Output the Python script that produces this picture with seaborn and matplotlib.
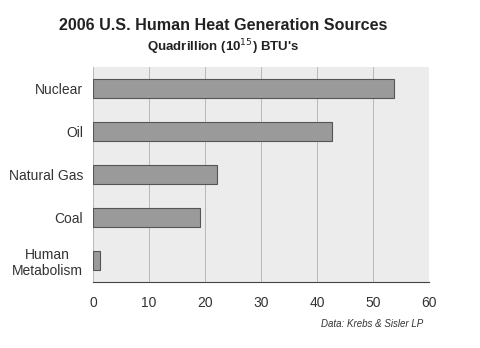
import matplotlib
matplotlib.use("Agg")
import matplotlib.pyplot as plt
import seaborn as sns
import pandas as pd

categories = ["Nuclear", "Oil", "Natural Gas", "Coal", "Human\nMetabolism"]
values = [53.7, 42.7, 22.1, 19.1, 1.3]
xticks = [0, 10, 20, 30, 40, 50, 60]

sns.set_theme(style="white")
plt.rcParams['font.family'] = ['Liberation Sans', 'DejaVu Sans']

df = pd.DataFrame({"source": categories, "btu": values})

fig = plt.figure(figsize=(4.8, 3.48), dpi=100)
ax = fig.add_axes([93/480, 1-282/348, (429-93)/480, (282-67)/348])
ax.set_facecolor("#ececec")

sns.barplot(data=df, x="btu", y="source", ax=ax, color="#9a9a9a",
            edgecolor="#555555", linewidth=0.8, width=0.42, saturation=1, zorder=3)

ax.set_xlim(0, 60)
ax.set_ylim(4.5, -0.5)
ax.set_xticks(xticks)
ax.set_xticklabels([str(t) for t in xticks], fontsize=10, color="#333333")
ax.set_yticks(range(len(categories)))
ax.set_yticklabels(categories, fontsize=10, color="#333333", multialignment="center")
ax.set_yticks([0.5, 1.5, 2.5, 3.5], minor=True)
ax.tick_params(axis="y", which="major", length=0, pad=7)
ax.tick_params(axis="y", which="minor", length=4, color="#777777", direction="out")
ax.tick_params(axis="x", length=0, pad=10)
ax.set_xlabel("")
ax.set_ylabel("")
ax.grid(axis="x", color="#b8b8b8", linewidth=0.7, zorder=1)
ax.set_axisbelow(True)
for s in ["top", "right"]:
    ax.spines[s].set_visible(False)
ax.spines["left"].set_color("#bbbbbb")
ax.spines["left"].set_linewidth(0.6)
ax.spines["bottom"].set_color("#444444")
ax.spines["bottom"].set_linewidth(0.8)

fig.text(223/480, 1-26/348, "2006 U.S. Human Heat Generation Sources", ha="center", va="center",
         fontsize=11.6, fontweight="bold", color="#222222")
fig.text(223/480, 1-47/348, "Quadrillion (10$^{15}$) BTU's", ha="center", va="center",
         fontsize=9.5, fontweight="bold", color="#222222")
fig.text(423/480, 1-324/348, "Data: Krebs & Sisler LP", ha="right", va="center",
         fontsize=7, style="italic", color="#333333")

fig.savefig("out.png", dpi=100)
